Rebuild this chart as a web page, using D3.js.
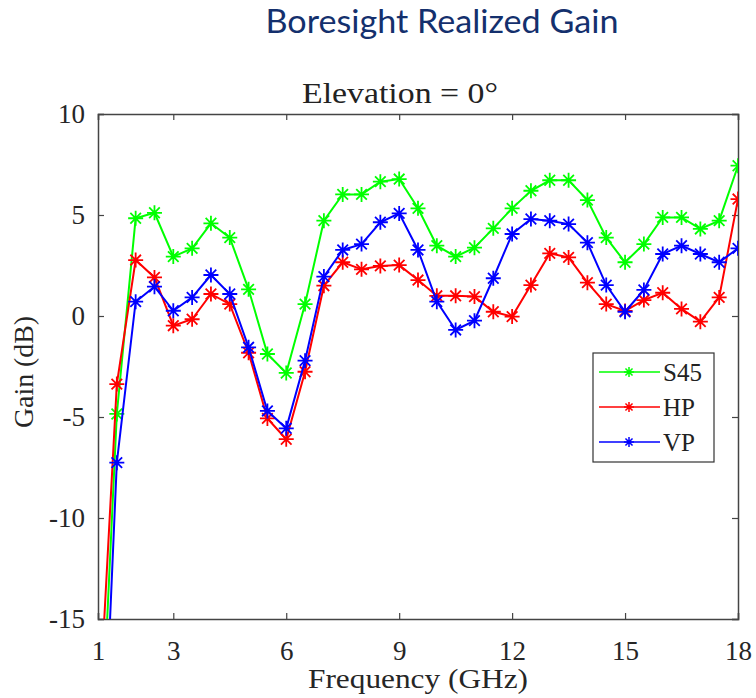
<!DOCTYPE html>
<html lang="en">
  <head>
    <meta charset="UTF-8">
    <title>Boresight Realized Gain</title>
    <style>
      body { margin: 0; background: #fff; }
      svg { display: block; }
    </style>
  </head>
  <body>
    <svg id="chart" width="756" height="698"></svg>

    <script src="https://cdn.jsdelivr.net/npm/d3@7"></script>

    <script>
      // frecuencias (GHz) y ganancias (dB)
      var freqs = [1, 1.5, 2, 2.5, 3, 3.5, 4, 4.5, 5, 5.5, 6, 6.5, 7, 7.5, 8, 8.5, 9, 9.5,
                   10, 10.5, 11, 11.5, 12, 12.5, 13, 13.5, 14, 14.5, 15, 15.5, 16, 16.5, 17, 17.5, 18];

      var s45 = [-24.7, -4.85, 4.84, 5.11, 2.94, 3.35, 4.59, 3.88, 1.32, -1.88, -2.82, 0.59, 4.72, 6.02, 6.02, 6.65, 6.78, 5.33,
                 3.48, 2.94, 3.38, 4.34, 5.33, 6.2, 6.72, 6.72, 5.74, 3.88, 2.66, 3.56, 4.88, 4.88, 4.31, 4.72, 7.44];

      var hp = [-20.8, -3.37, 2.77, 1.91, -0.48, -0.16, 1.09, 0.59, -1.82, -5.07, -6.1, -2.76, 1.5, 2.66, 2.31, 2.48, 2.52, 1.78,
                1.0, 1.0, 0.96, 0.21, -0.03, 1.53, 3.1, 2.9, 1.65, 0.59, 0.25, 0.79, 1.15, 0.35, -0.28, 0.92, 5.79];

      var vp = [-28.8, -7.26, 0.71, 1.45, 0.26, 0.92, 2.03, 1.09, -1.55, -4.7, -5.56, -2.21, 1.95, 3.27, 3.56, 4.64, 5.08, 3.27,
                0.71, -0.69, -0.23, 1.87, 4.06, 4.8, 4.72, 4.55, 3.63, 1.53, 0.21, 1.29, 3.07, 3.48, 3.07, 2.66, 3.35];

      var seriesNames = ["S45", "HP", "VP"];
      var seriesColors = ["#00ff00", "#ff0000", "#0000ff"];
      var xTicks = [1, 3, 6, 9, 12, 15, 18];
      var yTicks = [-15, -10, -5, 0, 5, 10];

      var series = [s45, hp, vp];

      var svg = d3.select("#chart");
      var pLeft = 98, pRight = 738, pTop = 114, pBottom = 619;

      var x = d3.scaleLinear().domain([1, 18]).range([pLeft, pRight]);
      var y = d3.scaleLinear().domain([-15, 10]).range([pBottom, pTop]);

      var serif = "'Liberation Serif', 'Times New Roman', serif";
      var plain = function (d) { return String(d); }; // guion normal, como en MATLAB

      // titulo superior
      svg.append("text")
        .attr("x", 442).attr("y", 33)
        .attr("text-anchor", "middle")
        .attr("textLength", 353).attr("lengthAdjust", "spacingAndGlyphs")
        .style("font-family", "Lato, 'Open Sans', sans-serif")
        .style("font-size", "32px")
        .style("fill", "#14306d")
        .text("Boresight Realized Gain");

      svg.append("text")
        .attr("x", 400).attr("y", 103)
        .attr("text-anchor", "middle")
        .attr("textLength", 196).attr("lengthAdjust", "spacingAndGlyphs")
        .style("font-family", serif)
        .style("font-size", "29px")
        .style("fill", "#222")
        .text("Elevation = 0\u00b0");

      svg.append("clipPath").attr("id", "clip")
        .append("rect")
        .attr("x", pLeft).attr("y", pTop)
        .attr("width", pRight - pLeft).attr("height", pBottom - pTop);

      // ejes con ticks hacia adentro
      var tk = 6;
      svg.append("g").attr("transform", "translate(0," + pBottom + ")")
        .call(d3.axisBottom(x).tickValues(xTicks).tickSize(-tk).tickPadding(22).tickFormat(plain));
      svg.append("g").attr("transform", "translate(0," + pTop + ")")
        .call(d3.axisTop(x).tickValues(xTicks).tickSize(-tk).tickFormat(""));
      svg.append("g").attr("transform", "translate(" + pLeft + ",0)")
        .call(d3.axisLeft(y).tickValues(yTicks).tickSize(-tk).tickPadding(13).tickFormat(plain));
      svg.append("g").attr("transform", "translate(" + pRight + ",0)")
        .call(d3.axisRight(y).tickValues(yTicks).tickSize(-tk).tickFormat(""));

      svg.selectAll(".domain").attr("stroke", "#444").attr("stroke-width", 1.5);
      svg.selectAll(".tick line").attr("stroke", "#444").attr("stroke-width", 1.2);
      svg.selectAll(".tick text")
        .style("font-family", serif)
        .style("font-size", "27px")
        .style("fill", "#262626");

      svg.append("text")
        .attr("x", 418).attr("y", 688)
        .attr("text-anchor", "middle")
        .attr("textLength", 220).attr("lengthAdjust", "spacingAndGlyphs")
        .style("font-family", serif).style("font-size", "27px").style("fill", "#262626")
        .text("Frequency (GHz)");

      svg.append("text")
        .attr("transform", "translate(33,372) rotate(-90)")
        .attr("text-anchor", "middle")
        .attr("textLength", 112).attr("lengthAdjust", "spacingAndGlyphs")
        .style("font-family", serif).style("font-size", "28px").style("fill", "#262626")
        .text("Gain (dB)");

      // marcador asterisco
      function star(r) {
        var d = r * Math.SQRT1_2;
        return "M" + (-r) + ",0L" + r + ",0M0," + (-r) + "L0," + r +
               "M" + (-d) + "," + (-d) + "L" + d + "," + d +
               "M" + (-d) + "," + d + "L" + d + "," + (-d);
      }

      var line = d3.line()
        .x(function (d, i) { return x(freqs[i]); })
        .y(function (d) { return y(d); });

      var plot = svg.append("g").attr("clip-path", "url(#clip)");

      series.forEach(function (vals, k) {
        plot.append("path")
          .datum(vals)
          .attr("d", line)
          .attr("fill", "none")
          .attr("stroke", seriesColors[k])
          .attr("stroke-width", 2);

        plot.selectAll(".m" + k)
          .data(vals)
          .enter().append("path")
          .attr("class", "m" + k)
          .attr("transform", function (d, i) { return "translate(" + x(freqs[i]) + "," + y(d) + ")"; })
          .attr("d", star(7.5))
          .attr("stroke", seriesColors[k])
          .attr("stroke-width", 1.8);
      });

      // leyenda
      var lg = svg.append("g");
      lg.append("rect")
        .attr("x", 593).attr("y", 353).attr("width", 121).attr("height", 109)
        .attr("fill", "#fff").attr("stroke", "#333").attr("stroke-width", 1.2);

      seriesNames.forEach(function (name, k) {
        var yy = 372 + k * 35;
        lg.append("line")
          .attr("x1", 599).attr("x2", 660).attr("y1", yy).attr("y2", yy)
          .attr("stroke", seriesColors[k]).attr("stroke-width", 1.5);
        lg.append("path")
          .attr("transform", "translate(629," + yy + ")")
          .attr("d", star(5))
          .attr("stroke", seriesColors[k]).attr("stroke-width", 1.5);
        lg.append("text")
          .attr("x", 663).attr("y", yy + 9)
          .style("font-family", serif).style("font-size", "25px").style("fill", "#222")
          .text(name);
      });
    </script>
  </body>
</html>
